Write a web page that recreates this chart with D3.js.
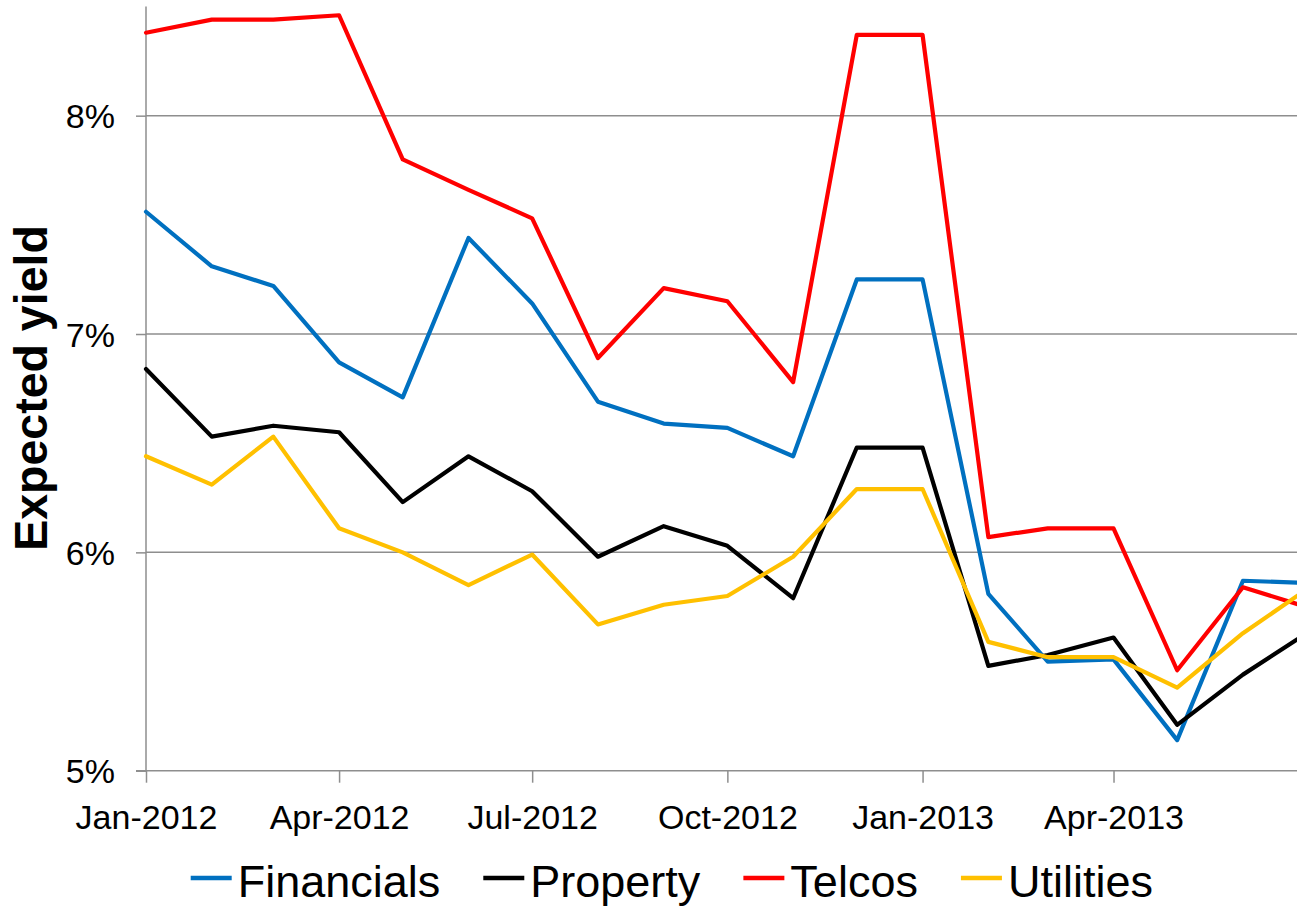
<!DOCTYPE html>
<html>
<head>
<meta charset="utf-8">
<script src="https://cdn.jsdelivr.net/npm/d3@7"></script>
<style>
  html, body { margin: 0; padding: 0; background: #fff; }
  svg { display: block; font-family: "Liberation Sans", Arial, sans-serif; }
</style>
</head>
<body>
<svg id="chart" width="1297" height="907"></svg>
<script>
// ---- Data ----
const months = ["2012-01","2012-02","2012-03","2012-04","2012-05","2012-06","2012-07",
  "2012-08","2012-09","2012-10","2012-11","2012-12","2013-01","2013-02","2013-03",
  "2013-04","2013-05","2013-06","2013-07"];
const financials = [7.56,7.31,7.22,6.87,6.71,7.44,7.14,6.69,6.59,6.57,6.44,7.25,7.25,5.81,5.50,5.51,5.14,5.87,5.86];
const property   = [6.84,6.53,6.58,6.55,6.23,6.44,6.28,5.98,6.12,6.03,5.79,6.48,6.48,5.48,5.53,5.61,5.21,5.44,5.63];
const telcos     = [8.38,8.44,8.44,8.46,7.80,7.66,7.53,6.89,7.21,7.15,6.78,8.37,8.37,6.07,6.11,6.11,5.46,5.84,5.75];
const utilities  = [6.44,6.31,6.53,6.11,6.00,5.85,5.99,5.67,5.76,5.80,5.98,6.29,6.29,5.59,5.52,5.52,5.38,5.63,5.83];
const seriesNames = ["Financials","Property","Telcos","Utilities"];
const seriesColors = ["#0070C0","#000000","#FF0000","#FFC000"];
const yTicks = [5,6,7,8];
const xTickMonths = ["2012-01","2012-04","2012-07","2012-10","2013-01","2013-04"];
const yTitle = "Expected yield";

// ---- Chart ----
const svg = d3.select("#chart");
const parse = d3.utcParse("%Y-%m");
const dates = months.map(parse);

const x = d3.scaleUtc()
  .domain([parse("2012-01"), parse("2013-07")])
  .range([146, 1306.6]);
const y = d3.scaleLinear().domain([5, 8.5]).range([770.7, 6.5]);

const axisColor = "#8e8e8e";

// gridlines
svg.append("g").selectAll("line")
  .data(yTicks.filter(d => d > 5))
  .join("line")
  .attr("x1", 146).attr("x2", 1297)
  .attr("y1", d => y(d)).attr("y2", d => y(d))
  .attr("stroke", axisColor).attr("stroke-width", 1.5);

// y axis
const yAxis = d3.axisLeft(y).tickValues(yTicks).tickSize(10).tickPadding(21)
  .tickFormat(d => d + "%");
const gy = svg.append("g").attr("transform", "translate(146,0)").call(yAxis);
gy.select(".domain").attr("stroke", axisColor).attr("stroke-width", 1.5)
  .attr("d", `M0,${y.range()[1]}V${y.range()[0]}`);
gy.selectAll(".tick line").attr("stroke", axisColor).attr("stroke-width", 1.5);
gy.selectAll(".tick text").attr("font-size", 34).attr("fill", "#000")
  .attr("font-family", "Liberation Sans, Arial, sans-serif").attr("dy", "0.36em");

// x axis
const xAxis = d3.axisBottom(x).tickValues(xTickMonths.map(parse)).tickSize(12).tickPadding(22)
  .tickFormat(d3.utcFormat("%b-%Y"));
const gx = svg.append("g").attr("transform", `translate(0,${y(5)})`).call(xAxis);
gx.select(".domain").attr("stroke", axisColor).attr("stroke-width", 1.5)
  .attr("d", "M136,0H1297");
gx.selectAll(".tick line").attr("stroke", axisColor).attr("stroke-width", 1.5);
gx.selectAll(".tick text").attr("font-size", 34).attr("fill", "#000")
  .attr("font-family", "Liberation Sans, Arial, sans-serif").attr("dy", "0.71em");

// lines
const allSeries = [financials, property, telcos, utilities];
const line = d3.line().x((d, i) => x(dates[i])).y(d => y(d));
svg.append("g").selectAll("path")
  .data(allSeries)
  .join("path")
  .attr("d", d => line(d))
  .attr("fill", "none")
  .attr("stroke", (d, i) => seriesColors[i])
  .attr("stroke-width", 4.2)
  .attr("stroke-linejoin", "round")
  .attr("stroke-linecap", "round");

// y title
svg.append("text")
  .attr("transform", "translate(47,388) rotate(-90)")
  .attr("text-anchor", "middle")
  .attr("font-size", 46.5).attr("font-weight", "bold")
  .text(yTitle);

// legend
const lg = svg.append("g");
let cx = 190.7;
seriesNames.forEach((name, i) => {
  lg.append("line").attr("x1", cx).attr("x2", cx + 41)
    .attr("y1", 878).attr("y2", 878)
    .attr("stroke", seriesColors[i]).attr("stroke-width", 4.5);
  const t = lg.append("text").attr("x", cx + 47).attr("y", 897)
    .attr("font-size", 45).attr("fill", "#000").text(name);
  cx = cx + 47 + t.node().getComputedTextLength() + 43;
});
</script>
</body>
</html>
